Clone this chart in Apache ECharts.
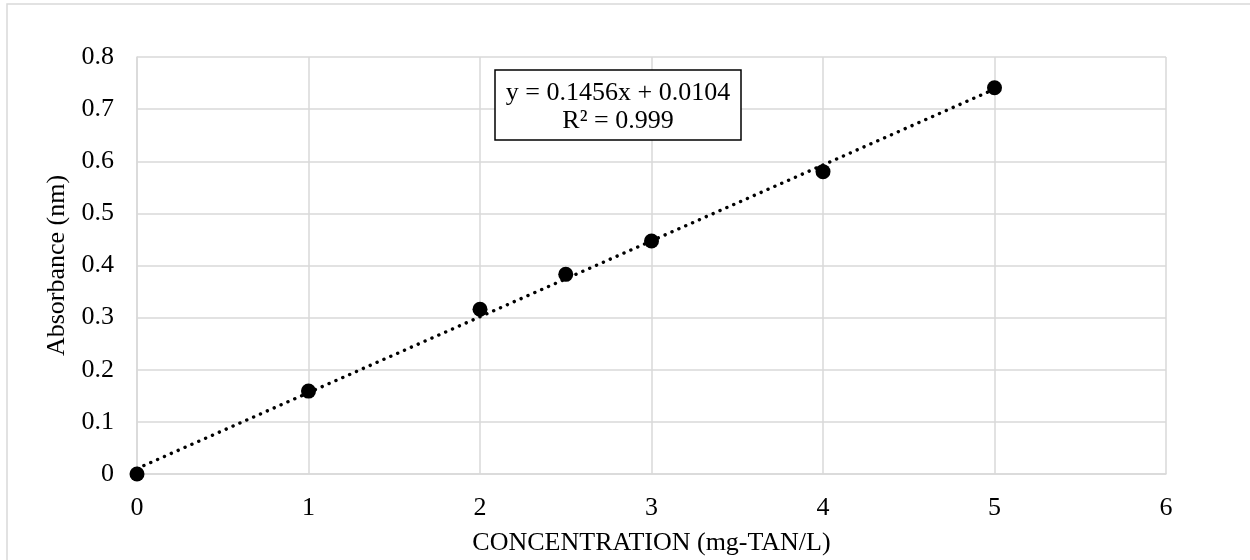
<!DOCTYPE html>
<html>
<head>
<meta charset="utf-8">
<script src="https://cdn.jsdelivr.net/npm/echarts@6/dist/echarts.min.js"></script>
<style>html,body{margin:0;padding:0;background:#fff}#c{width:1250px;height:560px}</style>
</head>
<body>
<div id="c"></div>
<script>
// Data
var concentration = [0, 1, 2, 2.5, 3, 4, 5];
var absorbance = [0.000, 0.159, 0.316, 0.383, 0.447, 0.580, 0.741];
// Linear trendline end points (from the equation y = 0.1456x + 0.0104)
var trendX = [0, 5];
var trendY = [0.0104, 0.7384];
var equationText = 'y = 0.1456x + 0.0104';
var r2Text = 'R² = 0.999';
var xTitle = 'CONCENTRATION (mg-TAN/L)';
var yTitle = 'Absorbance (nm)';

var FONT = '"Liberation Serif", "Times New Roman", serif';
var chart = echarts.init(document.getElementById('c'), null, {renderer: 'canvas'});
var pts = concentration.map(function (x, i) { return [x, absorbance[i]]; });
var trend = trendX.map(function (x, i) { return [x, trendY[i]]; });

chart.setOption({
  animation: false,
  backgroundColor: '#fff',
  textStyle: {fontFamily: FONT},
  grid: {left: 137, right: 84, top: 57, bottom: 86, containLabel: false, outerBoundsMode: 'none'},
  xAxis: {
    type: 'value', min: 0, max: 6, interval: 1,
    name: xTitle, nameLocation: 'middle', nameGap: 56,
    nameTextStyle: {fontFamily: FONT, fontSize: 26, color: '#000'},
    axisLine: {show: true, lineStyle: {color: '#d9d9d9', width: 1.5}},
    axisTick: {show: false},
    axisLabel: {fontFamily: FONT, fontSize: 26, color: '#000', margin: 21},
    splitLine: {show: true, lineStyle: {color: '#d9d9d9', width: 1.5}}
  },
  yAxis: {
    type: 'value', min: 0, max: 0.8, interval: 0.1,
    name: yTitle, nameLocation: 'middle', nameGap: 64, nameRotate: 90,
    nameTextStyle: {fontFamily: FONT, fontSize: 26, color: '#000'},
    axisLine: {show: true, lineStyle: {color: '#d9d9d9', width: 1.5}},
    axisTick: {show: false},
    axisLabel: {fontFamily: FONT, fontSize: 26, color: '#000', margin: 23,
      formatter: function (v) { return String(Math.round(v * 10) / 10); }},
    splitLine: {show: true, lineStyle: {color: '#d9d9d9', width: 1.5}}
  },
  series: [
    {
      type: 'line', data: trend, symbol: 'none', z: 2,
      lineStyle: {color: '#000', width: 3.4, type: [0.1, 7.4], cap: 'round'}
    },
    {
      type: 'scatter', data: pts, symbol: 'circle', symbolSize: 15, z: 3,
      itemStyle: {color: '#000', opacity: 1}
    }
  ],
  graphic: [
    {type: 'rect', silent: true, shape: {x: 7, y: 4, width: 1300, height: 700},
      style: {fill: 'none', stroke: '#d9d9d9', lineWidth: 1.5}, z: 0},
    {type: 'rect', silent: true, shape: {x: 495, y: 70, width: 246, height: 70},
      style: {fill: '#fff', stroke: '#000', lineWidth: 1.5}, z: 10},
    {type: 'text', silent: true, x: 618, y: 93, z: 11,
      style: {text: equationText, font: '26px ' + FONT, fill: '#000', align: 'center', verticalAlign: 'middle'}},
    {type: 'text', silent: true, x: 618, y: 121, z: 11,
      style: {text: r2Text, font: '26px ' + FONT, fill: '#000', align: 'center', verticalAlign: 'middle'}}
  ]
});
</script>
</body>
</html>
